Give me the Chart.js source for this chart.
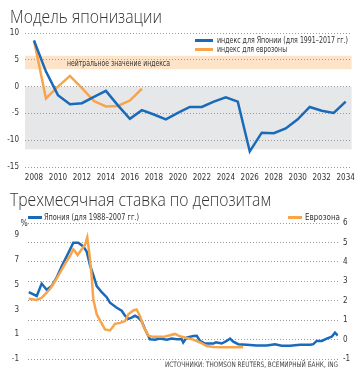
<!DOCTYPE html>
<html><head><meta charset="utf-8">
<script src="https://cdn.jsdelivr.net/npm/chart.js@4/dist/chart.umd.min.js"></script>
<style>
body{margin:0;background:#fff;}
#wrap{position:relative;width:361px;height:380px;overflow:hidden;font-family:"Liberation Sans Narrow","DejaVu Sans Condensed","Liberation Sans",Arial,sans-serif;color:#333}
canvas{position:absolute;left:0}
.title{position:absolute;left:10px;font-family:"Open Sans",sans-serif;font-weight:300;font-size:18px;color:#333;white-space:nowrap;line-height:1;z-index:2;transform-origin:0 50%}
.leg{position:absolute;font-size:8.5px;white-space:nowrap;height:10px;line-height:10px;z-index:2;transform-origin:0 50%}
.sw{position:absolute;height:3px;z-index:2}
</style></head>
<body><div id="wrap">
<div class="title fit" data-w="152" style="top:6.5px">Модель японизации</div>
<canvas id="c1" width="361" height="190" style="top:0"></canvas>
<div class="sw" style="left:195px;top:38.5px;width:18px;background:#1a6aba"></div>
<div class="leg fit" data-w="131" style="left:217px;top:35px">индекс для Японии (для 1991–2017 гг.)</div>
<div class="sw" style="left:195px;top:48px;width:18px;background:#f7a44a"></div>
<div class="leg fit" data-w="70" style="left:217px;top:44.3px">индекс для еврозоны</div>
<div class="leg fit" data-w="103" id="neutral" style="left:67px;top:59px">нейтральное значение индекса</div>

<div class="title fit" data-w="261" style="top:189.5px">Трехмесячная ставка по депозитам</div>
<canvas id="c2" width="361" height="190" style="top:190px"></canvas>
<div class="sw" style="left:28px;top:215.5px;width:14px;background:#1a6aba"></div>
<div class="leg fit" data-w="95" style="left:44px;top:212px">Япония (для 1988–2007 гг.)</div>
<div class="sw" style="left:288px;top:215.5px;width:14px;background:#f7a44a"></div>
<div class="leg fit" data-w="35" style="left:305px;top:212px">Еврозона</div>
<div class="leg" style="left:20.5px;top:218px">%</div>
<div class="leg fit" data-w="173" style="left:165px;top:360px;font-size:7.5px;color:#444">ИСТОЧНИКИ: THOMSON REUTERS, ВСЕМИРНЫЙ БАНК, ING</div>
</div>
<script>
// ---------- Top chart data ----------
const indexYears = [2008,2009,2010,2011,2012,2013,2014,2015,2016,2017,2018,2019,2020,2021,2022,2023,2024,2025,2026,2027,2028,2029,2030,2031,2032,2033,2034];
const japanIndex = [8.6,2.8,-1.6,-3.3,-3.1,-1.9,-0.8,-3.5,-6.0,-4.4,-5.2,-6.1,-4.9,-3.8,-3.8,-2.8,-2.0,-2.8,-12.1,-8.6,-8.7,-7.8,-6.1,-3.8,-4.5,-4.9,-2.8];
const euroIndex = [8.6,-2.2,0.0,2.0,-0.3,-2.7,-3.7,-3.6,-2.6,-0.4];
const topXTicks = [2008,2010,2012,2014,2016,2018,2020,2022,2024,2026,2028,2030,2032,2034];
const topYTicks = [-15,-10,-5,0,5,10];
const neutralBand = [3.25, 5.75];
const grayBand = [0, -11.7];

// ---------- Bottom chart data ----------
const jpDepositX = [2004.3,2004.83,2005.16,2005.49,2005.82,2006.16,2006.49,2006.82,2007.04,2007.26,2007.59,2007.93,2008.15,2008.37,2008.59,2008.82,2009.15,2009.48,2009.70,2010.15,2010.48,2010.70,2010.92,2011.14,2011.36,2011.58,2011.81,2012.03,2012.36,2012.69,2013.03,2013.47,2013.80,2014.14,2014.47,2014.57,2014.8,2015.24,2015.47,2015.69,2016.02,2016.57,2016.75,2017.13,2017.46,2017.68,2017.90,2018.23,2018.79,2019.45,2020.12,2020.67,2021.12,2021.67,2022.34,2023.0,2023.22,2023.44,2023.78,2024.11,2024.44,2024.66,2024.85];
const jpDeposit = [4.4,4.1,5.1,4.6,4.9,5.6,6.5,7.3,7.85,8.4,8.4,8.1,7.7,6.6,5.8,4.9,4.4,4.0,3.55,3.15,2.9,2.5,2.25,2.35,2.5,2.35,2.05,1.4,0.6,0.55,0.65,0.55,0.65,0.6,0.6,0.33,0.73,0.86,0.87,0.46,0.25,0.25,0.35,0.25,0.46,0.65,0.4,0.2,0.15,0.1,0.1,0.2,0.07,0.07,0.15,0.15,0.2,0.46,0.46,0.65,0.8,1.13,0.9];
const euDepositX = [2004.3,2004.83,2005.16,2005.38,2005.71,2006.04,2006.38,2006.71,2007.04,2007.26,2007.37,2007.55,2007.82,2008.04,2008.19,2008.32,2008.48,2008.59,2008.82,2009.10,2009.37,2009.70,2009.92,2010.03,2010.37,2010.70,2010.92,2011.25,2011.47,2011.70,2011.92,2012.25,2012.58,2013.25,2013.69,2014.02,2014.35,2014.80,2015.24,2015.69,2016.13,2016.6,2017.13,2018.55];
const euDeposit = [2.1,2.04,2.15,2.33,2.6,3.0,3.45,3.9,4.3,4.65,4.55,4.35,4.65,4.87,5.26,4.5,3.28,2.07,1.3,0.9,0.52,0.47,0.69,0.81,0.86,0.95,1.3,1.5,1.55,1.2,0.69,0.2,0.14,0.14,0.22,0.29,0.17,0.08,0.0,-0.15,-0.33,-0.38,-0.4,-0.4];
const bottomXTicks = [2005,2008,2011,2014,2017,2020,2023,2024.3];
const bottomXLabels = ['2005','2008','2011','2014','2017','2020','2023','2024'];
const leftTicks = [-1,1,3,5,7,9];
const rightTicks = [-1,0,1,2,3,4,5,6];

const BLUE = '#1a6aba', ORANGE = '#f7a44a';
const FONT = '"Liberation Sans Narrow","DejaVu Sans Condensed","Liberation Sans",Arial,sans-serif';
const tickFont = {family: FONT, size: 8};
const GRID = '#9a9a9a';

// fit HTML text labels to their measured reference widths
document.querySelectorAll('.fit').forEach(el => {
  const w = el.getBoundingClientRect().width;
  const target = parseFloat(el.dataset.w);
  if (w > 0) el.style.transform = 'scaleX(' + (target / w) + ')';
});

const bandsPlugin = {
  id: 'bands',
  beforeDraw(chart) {
    const {ctx, chartArea: a, scales: {y}} = chart;
    ctx.save();
    let p0 = y.getPixelForValue(grayBand[0]), p1 = y.getPixelForValue(grayBand[1]);
    ctx.fillStyle = '#e6e7e8';
    ctx.fillRect(a.left, Math.min(p0, p1), a.right - a.left, Math.abs(p1 - p0));
    p0 = y.getPixelForValue(neutralBand[0]); p1 = y.getPixelForValue(neutralBand[1]);
    ctx.fillStyle = '#fde4c8';
    ctx.fillRect(a.left, Math.min(p0, p1), a.right - a.left, Math.abs(p1 - p0));
    ctx.restore();
  }
};

const c1 = new Chart(document.getElementById('c1'), {
  type: 'line',
  data: {datasets: [
    {data: indexYears.map((x, i) => ({x, y: japanIndex[i]})), borderColor: BLUE, borderWidth: 2.5, pointRadius: 0, tension: 0, order: 0},
    {data: euroIndex.map((v, i) => ({x: indexYears[i], y: v})), borderColor: ORANGE, borderWidth: 2.5, pointRadius: 0, tension: 0, order: 1}
  ]},
  options: {
    responsive: false, animation: false, devicePixelRatio: 1,
    layout: {padding: {top: 33, right: 9, bottom: 0, left: 0}},
    plugins: {legend: {display: false}, tooltip: {enabled: false}},
    scales: {
      x: {type: 'linear', min: 2007.25, max: 2034.5,
        grid: {display: false, drawTicks: false}, border: {display: false},
        afterBuildTicks: s => { s.ticks = topXTicks.map(v => ({value: v})); },
        ticks: {font: tickFont, color: '#333', padding: 6, maxRotation: 0, autoSkip: false, callback: v => String(v)},
        afterFit: s => { s.height = 23; }},
      y: {min: -15, max: 10,
        afterBuildTicks: s => { s.ticks = topYTicks.map(v => ({value: v})); },
        grid: {color: GRID, drawTicks: false}, border: {display: false, dash: [1, 2]},
        ticks: {font: tickFont, color: '#333', padding: 6},
        afterFit: s => { s.width = 25; }}
    }
  },
  plugins: [bandsPlugin]
});
(function(){
  const el = document.getElementById('neutral');
  el.style.left = c1.scales.x.getPixelForValue(2010.75) + 'px';
  el.style.top = (c1.scales.y.getPixelForValue((neutralBand[0] + neutralBand[1]) / 2) - 4.5) + 'px';
})();

new Chart(document.getElementById('c2'), {
  type: 'line',
  data: {datasets: [
    {data: jpDepositX.map((x, i) => ({x, y: jpDeposit[i]})), yAxisID: 'y', borderColor: BLUE, borderWidth: 2.5, pointRadius: 0, tension: 0, order: 1},
    {data: euDepositX.map((x, i) => ({x, y: euDeposit[i]})), yAxisID: 'y1', borderColor: ORANGE, borderWidth: 2.5, pointRadius: 0, tension: 0, order: 0}
  ]},
  options: {
    responsive: false, animation: false, devicePixelRatio: 1,
    layout: {padding: {top: 33, right: 0, bottom: 0, left: 0}},
    plugins: {legend: {display: false}, tooltip: {enabled: false}},
    scales: {
      x: {type: 'linear', min: 2004.25, max: 2024.86,
        grid: {display: false, drawTicks: false}, border: {display: false},
        afterBuildTicks: s => { s.ticks = bottomXTicks.map(v => ({value: v})); },
        ticks: {font: tickFont, color: '#333', padding: -11, maxRotation: 0, autoSkip: false,
          callback: (v, i) => bottomXLabels[i]},
        afterFit: s => { s.height = 21; }},
      y: {position: 'left', min: -1, max: 10,
        afterBuildTicks: s => { s.ticks = leftTicks.map(v => ({value: v})); },
        grid: {display: false, drawTicks: false}, border: {display: false},
        ticks: {font: tickFont, color: '#333', padding: 9},
        afterFit: s => { s.width = 28; }},
      y1: {position: 'right', min: -1, max: 6,
        afterBuildTicks: s => { s.ticks = rightTicks.map(v => ({value: v})); },
        grid: {color: GRID, drawTicks: false}, border: {display: false, dash: [1, 2]},
        ticks: {font: tickFont, color: '#333', padding: 5},
        afterFit: s => { s.width = 23; }}
    }
  }
});
</script>
</body></html>
